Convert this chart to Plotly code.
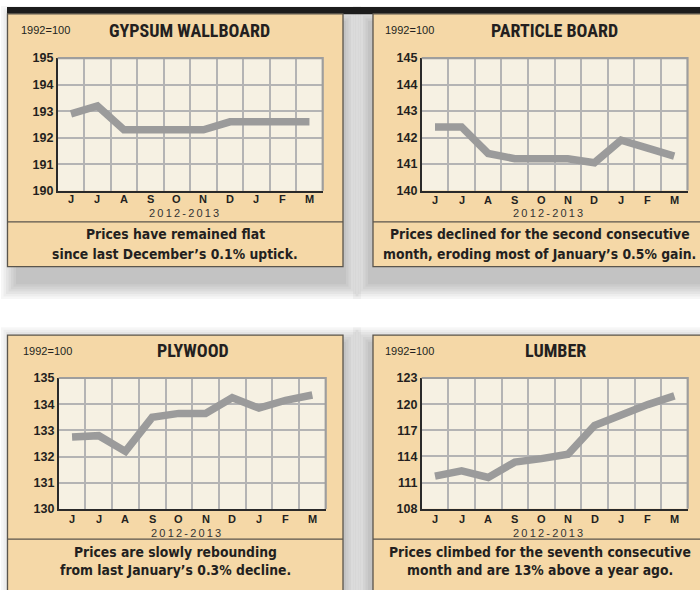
import plotly.graph_objects as go

W, H = 700, 590

# ---------------- data ----------------
months = ["J", "J", "A", "S", "O", "N", "D", "J", "F", "M"]
period_label = "2012-2013"
base_label = "1992=100"

titles = ["GYPSUM WALLBOARD", "PARTICLE BOARD", "PLYWOOD", "LUMBER"]

gypsum = [192.9, 193.2, 192.3, 192.3, 192.3, 192.3, 192.6, 192.6, 192.6, 192.6]
particle = [142.4, 142.4, 141.4, 141.2, 141.2, 141.2, 141.05, 141.9, 141.6, 141.3]
plywood = [132.75, 132.8, 132.2, 133.5, 133.65, 133.65, 134.25, 133.85, 134.15, 134.35]
lumber = [111.75, 112.35, 111.6, 113.35, 113.75, 114.25, 117.55, 118.8, 119.95, 120.95]

gypsum_ticks = [190, 191, 192, 193, 194, 195]
particle_ticks = [140, 141, 142, 143, 144, 145]
plywood_ticks = [130, 131, 132, 133, 134, 135]
lumber_ticks = [108, 111, 114, 117, 120, 123]

captions = [
    ["Prices have remained flat", "since last December\u2019s 0.1% uptick."],
    ["Prices declined for the second consecutive", "month, eroding most of January\u2019s 0.5% gain."],
    ["Prices are slowly rebounding", "from last January\u2019s 0.3% decline."],
    ["Prices climbed for the seventh consecutive", "month and are 13% above a year ago."],
]

series = [gypsum, particle, plywood, lumber]
ticks = [gypsum_ticks, particle_ticks, plywood_ticks, lumber_ticks]

# ---------------- style / layout ----------------
TITLE_FONT = "Roboto Condensed, Liberation Sans, Arial, sans-serif"
CAP_FONT = "DejaVu Sans Condensed, Liberation Sans, Arial, sans-serif"
SANS = "Liberation Sans, Arial, sans-serif"
PANEL_BG = "#F5D8A7"
PLOT_BG = "#F6F1E3"
GRID = "#B4B4B4"
LINE = "#9B9B9B"
BORDER = "#5A554C"
TEXT = "#231F20"


def X(px):
    return px / W


def Y(py):
    return 1 - py / H


panels = [
    (7.5, 7, 343, 266),
    (373, 7, 705, 266),
    (7.5, 336, 343, 600),
    (373, 336, 705, 600),
]
plots = [
    (57.7, 52.3, 322.7, 188.3),
    (421.7, 52.3, 687.5, 188.0),
    (58.7, 380.0, 325.7, 514.3),
    (421.7, 380.0, 687.7, 514.0),
]
shadows = [
    (16, 14, 346, 284),
    (368, 14, 712, 284),
    (16, 343, 346, 612),
    (368, 343, 712, 612),
]
divider_y = [220, 220, 545, 545]
title_pos = [(190, 24), (554.7, 24), (193, 352), (555, 352)]
base_pos = [(19, 24), (383, 24), (20.5, 352.5), (383, 352.5)]
month_y = [196.7, 197.5, 524, 524]
period_pos = [(184, 210.7), (547.7, 210.7), (186, 538.3), (547.7, 538.3)]
cap_pos = [(175, 233, 253), (539.5, 233, 253), (175.5, 558, 577), (540, 558, 577)]

fig = go.Figure()
shapes = []
annotations = []


def add_shadow(x0, y0, x1, y1, n=7, step=2.5, op=0.035):
    for i in range(n):
        d = (n - 1 - i) * step
        shapes.append(dict(type="rect", xref="paper", yref="paper",
                           x0=X(x0 - d), x1=X(x1 + d), y0=Y(y1 + d), y1=Y(y0 - d),
                           fillcolor="black", opacity=op, line=dict(width=0), layer="below"))


for s in shadows:
    add_shadow(*s)

shapes.append(dict(type="rect", xref="paper", yref="paper", x0=X(7), x1=X(700), y0=Y(7.5), y1=Y(0),
                   fillcolor="#1C1C1C", line=dict(width=0), layer="below"))

xmonths = list(range(len(months)))

for i in range(4):
    px0, py0, px1, py1 = panels[i]
    shapes.append(dict(type="rect", xref="paper", yref="paper", x0=X(px0), x1=X(px1), y0=Y(py1), y1=Y(py0),
                       fillcolor=PANEL_BG, line=dict(color=BORDER, width=1.3), layer="below"))
    shapes.append(dict(type="line", xref="paper", yref="paper", x0=X(px0), x1=X(min(px1, 700)),
                       y0=Y(divider_y[i]), y1=Y(divider_y[i]),
                       line=dict(color=BORDER, width=1.3), layer="below"))
    ax0, ay0, ax1, ay1 = plots[i]
    shapes.append(dict(type="rect", xref="paper", yref="paper", x0=X(ax0), x1=X(ax1), y0=Y(ay1), y1=Y(ay0),
                       fillcolor=PLOT_BG, line=dict(width=0), layer="below"))

    sfx = "" if i == 0 else str(i + 1)
    fig.add_trace(go.Scatter(x=xmonths, y=series[i], mode="lines",
                             line=dict(color=LINE, width=7.5), xaxis="x" + sfx, yaxis="y" + sfx,
                             showlegend=False, hoverinfo="skip"))
    t = ticks[i]
    fig.update_layout(**{
        "xaxis" + sfx: dict(domain=[X(ax0), X(ax1)], anchor="y" + sfx, range=[-0.5, len(months) - 0.5],
                            tickmode="array", tickvals=xmonths, showticklabels=False, showgrid=False,
                            zeroline=False, showline=True, linecolor="#2A2A2A", linewidth=1.6, ticks="",
                            minor=dict(tickmode="array", tickvals=[k + 0.5 for k in range(len(months) - 1)],
                                       showgrid=True, gridcolor=GRID, gridwidth=1.6, ticks=""),
                            fixedrange=True),
        "yaxis" + sfx: dict(domain=[Y(ay1), Y(ay0)], anchor="x" + sfx, range=[t[0], t[-1]],
                            tickmode="array", tickvals=t, showgrid=True, gridcolor=GRID, gridwidth=1.6,
                            zeroline=False, showline=True, linecolor="#2A2A2A", linewidth=1.6, ticks="",
                            tickfont=dict(family=SANS, size=12.5, color=TEXT, weight="bold"),
                            fixedrange=True),
    })
    shapes.append(dict(type="path", xref="paper", yref="paper",
                       path=f"M {X(ax0)} {Y(ay0)} L {X(ax1)} {Y(ay0)} L {X(ax1)} {Y(ay1)}",
                       line=dict(color="#9E9E9E", width=2.2), layer="above"))

    for k, m in enumerate(months):
        annotations.append(dict(xref="x" + sfx, yref="paper", x=k, y=Y(month_y[i]), text=m, showarrow=False,
                                xanchor="center", yanchor="middle",
                                font=dict(family=SANS, size=11, color=TEXT, weight="bold")))

    tx, ty = title_pos[i]
    annotations.append(dict(xref="paper", yref="paper", x=X(tx), y=Y(ty), text=titles[i], showarrow=False,
                            xanchor="center", yanchor="middle",
                            font=dict(family=TITLE_FONT, size=18, color=TEXT, weight="bold")))
    bx, by = base_pos[i]
    annotations.append(dict(xref="paper", yref="paper", x=X(bx), y=Y(by), text=base_label, showarrow=False,
                            xanchor="left", yanchor="middle",
                            font=dict(family=SANS, size=11, color=TEXT)))
    qx, qy = period_pos[i]
    annotations.append(dict(xref="paper", yref="paper", x=X(qx), y=Y(qy),
                            text="\u2009".join(period_label), showarrow=False,
                            xanchor="center", yanchor="middle",
                            font=dict(family=SANS, size=11, color="#333333")))
    cx, c1, c2 = cap_pos[i]
    for line_text, cy in zip(captions[i], (c1, c2)):
        annotations.append(dict(xref="paper", yref="paper", x=X(cx), y=Y(cy), text=line_text,
                                showarrow=False, xanchor="center", yanchor="middle",
                                font=dict(family=CAP_FONT, size=13.8, color=TEXT, weight="bold")))

fig.update_layout(width=W, height=H, margin=dict(l=0, r=0, t=0, b=0),
                  paper_bgcolor="white", plot_bgcolor="rgba(0,0,0,0)",
                  shapes=shapes, annotations=annotations, showlegend=False)

fig.write_html("out.html", config={"displayModeBar": False},
               post_script="document.body.style.margin='0px';")
